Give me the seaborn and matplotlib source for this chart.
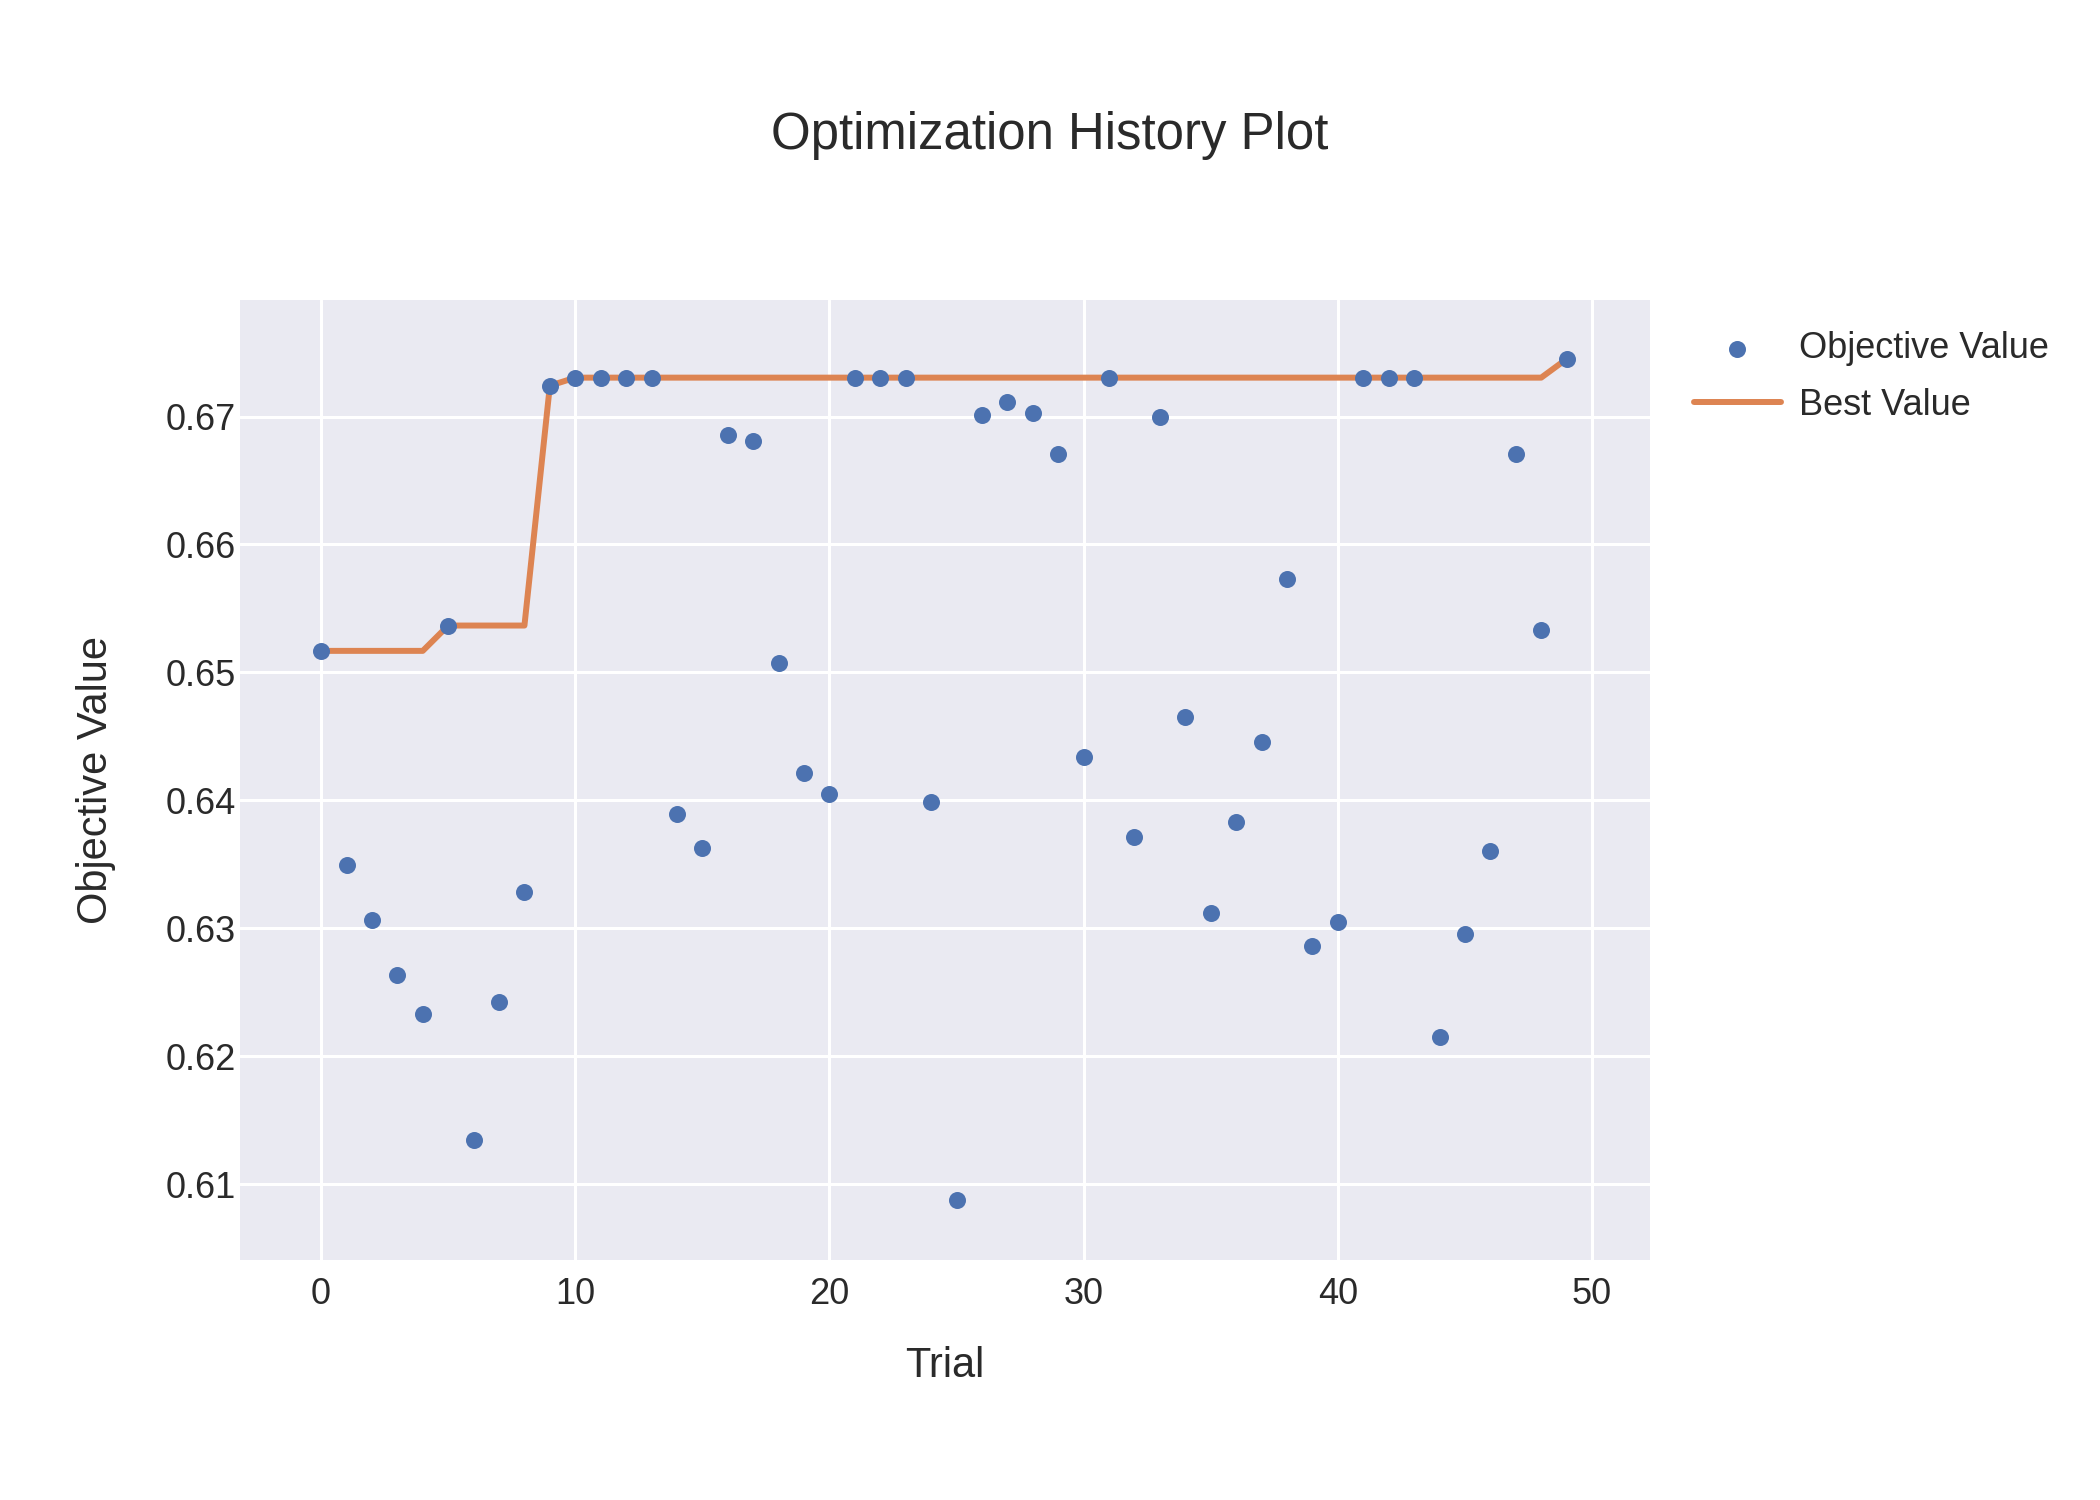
import matplotlib
matplotlib.use("Agg")
import matplotlib.pyplot as plt
import seaborn as sns
import pandas as pd
import numpy as np

trials = list(range(50))
objective = [
    0.65168, 0.63492, 0.63063, 0.62634, 0.62330, 0.65366, 0.61346, 0.62424, 0.63283, 0.67241,
    0.67304, 0.67304, 0.67304, 0.67304, 0.63890, 0.63628, 0.66853, 0.66812, 0.65073, 0.64215,
    0.64047, 0.67304, 0.67304, 0.67304, 0.63984, 0.60874, 0.67010, 0.67115, 0.67031, 0.66707,
    0.64340, 0.67304, 0.63712, 0.67000, 0.64654, 0.63115, 0.63827, 0.64455, 0.65733, 0.62864,
    0.63052, 0.67304, 0.67304, 0.67304, 0.62152, 0.62958, 0.63607, 0.66707, 0.65335, 0.67450,
]
x_ticks = [0, 10, 20, 30, 40, 50]
y_ticks = [0.61, 0.62, 0.63, 0.64, 0.65, 0.66, 0.67]

df = pd.DataFrame({"Trial": trials, "Objective Value": objective})
df["Best Value"] = np.maximum.accumulate(df["Objective Value"])

sns.set_theme(style="darkgrid")
plt.rcParams["font.family"] = ["Liberation Sans", "DejaVu Sans"]
text_color = "#2a2a2a"

fig = plt.figure(figsize=(21, 15), dpi=100, facecolor="white")
ax = fig.add_axes([240 / 2100, 1 - 1260 / 1500, 1410 / 2100, 960 / 1500])
ax.set_facecolor("#EAEAF2")

pal = sns.color_palette("deep")
sns.scatterplot(data=df, x="Trial", y="Objective Value", ax=ax, color=pal[0],
                s=150, linewidth=0, label="Objective Value", zorder=3)
sns.lineplot(data=df, x="Trial", y="Best Value", ax=ax, color=pal[1],
             linewidth=4.3, label="Best Value", zorder=2)

ax.set_xlim(-3.19, 52.28)
ax.set_ylim(0.60406, 0.67911)
ax.set_xticks(x_ticks)
ax.set_yticks(y_ticks)
ax.set_yticklabels([f"{v:.2f}" for v in y_ticks])
ax.grid(True, color="white", linewidth=2.2)
for s in ax.spines.values():
    s.set_visible(False)
ax.tick_params(axis="both", length=0, labelsize=26, colors=text_color)
ax.tick_params(axis="x", pad=12)
ax.tick_params(axis="y", pad=3)

ax.set_xlabel("Trial", fontsize=30, color=text_color, va="center")
ax.xaxis.set_label_coords(0.5, -(1366 - 1260) / 960)
ax.set_ylabel("Objective Value", fontsize=30, color=text_color, va="center")
ax.yaxis.set_label_coords(-(240 - 96) / 1410, 0.5)

fig.text(0.5, 1 - 136 / 1500, "Optimization History Plot", ha="center", va="center",
         fontsize=36.7, color=text_color)

leg = ax.legend(loc="upper left", bbox_to_anchor=(1694 / 2100, 1 - 331 / 1500),
                bbox_transform=fig.transFigure, frameon=False, fontsize=26,
                handlelength=2.4, handletextpad=0.5, labelspacing=0.6,
                borderpad=0, borderaxespad=0, scatterpoints=1)
for t in leg.get_texts():
    t.set_color(text_color)

fig.savefig("out.png", dpi=100, facecolor="white")
